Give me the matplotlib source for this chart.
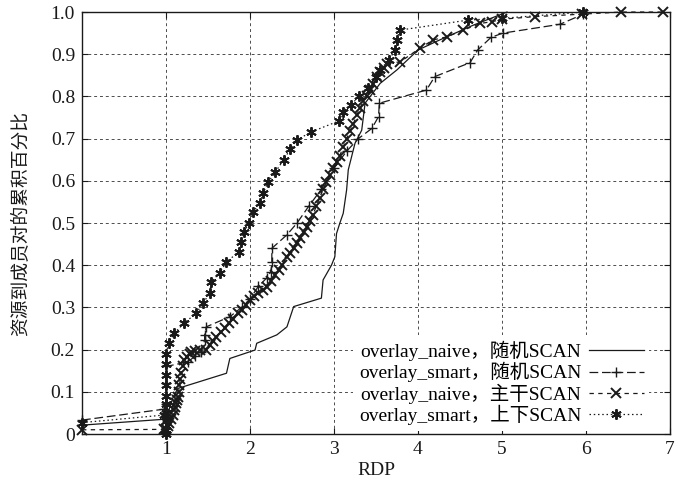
"""CDF of RDP for the four overlay / SCAN combinations."""
import matplotlib
matplotlib.use("Agg")
import matplotlib.pyplot as plt

plt.rcParams["font.family"] = ["Liberation Serif", "Noto Sans CJK SC", "DejaVu Sans"]

INK = "#1a1a1a"

LABELS = ["overlay_naive，随机SCAN", "overlay_smart，随机SCAN",
          "overlay_naive，主干SCAN", "overlay_smart，上下SCAN"]

# overlay_naive, random SCAN (solid)
X1 = [0, 0.98, 1.0, 1.04, 1.08, 1.14, 1.72, 1.76, 2.06, 2.08, 2.32, 2.44, 2.52,
      2.85, 2.87, 2.97, 3.01, 3.03, 3.07, 3.11, 3.15, 3.17, 3.25, 3.33, 3.37,
      3.55, 3.75, 4.0, 4.26, 4.66, 5.06]
Y1 = [0.021, 0.035, 0.035, 0.06, 0.085, 0.108, 0.144, 0.179, 0.199, 0.215,
      0.235, 0.254, 0.302, 0.322, 0.365, 0.40, 0.42, 0.475, 0.50, 0.523, 0.578,
      0.626, 0.689, 0.72, 0.784, 0.831, 0.863, 0.91, 0.934, 0.969, 1.0]

# overlay_smart, random SCAN (long dash, +)
X2 = [0, 0.98, 1.0, 1.0, 1.0, 1.26, 1.35, 1.42, 1.46, 1.46, 1.48, 1.76, 1.9,
      2.0, 2.1, 2.2, 2.25, 2.26, 2.26, 2.44, 2.56, 2.7, 2.85, 3.0, 3.15, 3.29,
      3.45, 3.53, 3.54, 4.10, 4.20, 4.62, 4.71, 4.87, 5.01, 5.69, 5.97]
Y2 = [0.033, 0.059, 0.07, 0.12, 0.16, 0.171, 0.185, 0.195, 0.223, 0.235,
      0.254, 0.278, 0.30, 0.32, 0.35, 0.37, 0.385, 0.408, 0.44, 0.472, 0.50,
      0.54, 0.58, 0.63, 0.67, 0.70, 0.724, 0.752, 0.784, 0.815, 0.847, 0.88,
      0.91, 0.94, 0.95, 0.971, 0.995]

# overlay_naive, trunk SCAN (short dash, x)
X3 = [0, 0.98, 1.0, 1.02, 1.04, 1.06, 1.08, 1.10, 1.11, 1.12, 1.13, 1.14, 1.15,
      1.16, 1.17, 1.18, 1.20, 1.22, 1.25, 1.28, 1.30, 1.35, 1.40, 1.48, 1.52,
      1.56, 1.60, 1.66, 1.70, 1.75, 1.80, 1.86, 1.90, 1.95, 2.00, 2.05, 2.10,
      2.15, 2.20, 2.25, 2.30, 2.34, 2.38, 2.44, 2.48, 2.52, 2.56, 2.60, 2.64,
      2.68, 2.71, 2.75, 2.79, 2.83, 2.87, 2.91, 2.95, 2.99, 3.03, 3.07, 3.11,
      3.15, 3.19, 3.23, 3.27, 3.31, 3.35, 3.39, 3.43, 3.47, 3.51, 3.55, 3.59,
      3.63, 3.79, 4.02, 4.18, 4.34, 4.54, 4.74, 4.88, 5.0, 5.39, 5.95, 6.42, 6.92]
Y3 = [0.01, 0.011, 0.012, 0.018, 0.025, 0.035, 0.045, 0.057, 0.065, 0.073,
      0.08, 0.088, 0.10, 0.115, 0.13, 0.145, 0.16, 0.175, 0.182, 0.19, 0.195,
      0.197, 0.198, 0.20, 0.21, 0.22, 0.23, 0.242, 0.252, 0.262, 0.273, 0.286,
      0.295, 0.306, 0.318, 0.326, 0.334, 0.341, 0.349, 0.362, 0.376, 0.389,
      0.40, 0.42, 0.43, 0.441, 0.452, 0.465, 0.478, 0.491, 0.505, 0.52, 0.54,
      0.56, 0.58, 0.597, 0.613, 0.63, 0.645, 0.66, 0.68, 0.70, 0.718, 0.735,
      0.755, 0.773, 0.788, 0.80, 0.815, 0.83, 0.845, 0.858, 0.868, 0.878,
      0.882, 0.914, 0.934, 0.941, 0.957, 0.973, 0.977, 0.983, 0.989, 0.995,
      1.0, 1.0]

# overlay_smart, trunk SCAN (dotted, asterisk)
X4 = [0, 0.98, 1.0, 1.0, 1.0, 1.0, 1.0, 1.0, 1.0, 1.0, 1.0, 1.0, 1.03, 1.10,
      1.21, 1.36, 1.44, 1.52, 1.54, 1.64, 1.72, 1.87, 1.89, 1.93, 1.99, 2.04,
      2.12, 2.16, 2.22, 2.30, 2.40, 2.48, 2.56, 2.73, 3.06, 3.11, 3.20, 3.30,
      3.40, 3.50, 3.55, 3.65, 3.73, 3.75, 3.78, 4.60, 5.0, 5.97]
Y4 = [0.027, 0.045, 0.0, 0.01, 0.03, 0.05, 0.07, 0.09, 0.115, 0.14, 0.165,
      0.19, 0.215, 0.239, 0.262, 0.286, 0.31, 0.333, 0.361, 0.382, 0.408,
      0.432, 0.456, 0.479, 0.501, 0.527, 0.548, 0.572, 0.598, 0.62, 0.65,
      0.675, 0.697, 0.716, 0.742, 0.764, 0.78, 0.80, 0.82, 0.845, 0.863,
      0.886, 0.91, 0.934, 0.957, 0.981, 0.985, 1.0]

X_TICKS = [1, 2, 3, 4, 5, 6, 7]
Y_TICKS = [0, 0.1, 0.2, 0.3, 0.4, 0.5, 0.6, 0.7, 0.8, 0.9, 1.0]
Y_TICKLABELS = ["0", "0.1", "0.2", "0.3", "0.4", "0.5", "0.6", "0.7", "0.8", "0.9", "1.0"]

ASTERISK = (6, 2, 0)


def build():
    fig = plt.figure(figsize=(6.76, 4.87), dpi=100)
    ax = fig.add_axes([0.1213, 0.1088, 0.8698, 0.8665])

    common = dict(color=INK, linewidth=0.9, clip_on=False)
    ax.plot(X1, Y1, linestyle="-", label=LABELS[0], **common)
    ax.plot(X2, Y2, linestyle=(0, (7, 3)), marker="+", markersize=6.5,
            markeredgewidth=1.0, label=LABELS[1], **common)
    ax.plot(X3, Y3, linestyle=(0, (3.5, 3.5)), marker="x", markersize=6.5,
            markeredgewidth=1.4, label=LABELS[2], **common)
    ax.plot(X4, Y4, linestyle=(0, (1.2, 2.2)), marker=ASTERISK, markersize=7.5,
            markeredgewidth=1.4, label=LABELS[3], **common)

    ax.set_xlim(0, 7)
    ax.set_ylim(0, 1.0)
    ax.set_xticks(X_TICKS)
    ax.set_xticklabels([str(t) for t in X_TICKS])
    ax.set_yticks(Y_TICKS)
    ax.set_yticklabels(Y_TICKLABELS)
    ax.tick_params(axis="both", direction="in", length=4, width=0.8,
                   top=True, right=True, labelsize=14, colors=INK, pad=5)
    ax.grid(True, color="0.3", linestyle=(0, (3, 3)), linewidth=0.7)
    for s in ax.spines.values():
        s.set_color(INK)
        s.set_linewidth(1.0)

    ax.set_xlabel("RDP", fontsize=14, color=INK, labelpad=3)
    ax.set_ylabel("资源到成员对的累积百分比", fontsize=13.5, color=INK, labelpad=15)

    leg = ax.legend(loc="lower right", bbox_to_anchor=(0.965, 0.008),
                    markerfirst=False, fontsize=14, frameon=True,
                    handlelength=2.8, handletextpad=0.4, labelspacing=0.05,
                    borderpad=0.3, borderaxespad=0)
    leg.get_frame().set_edgecolor("none")
    leg.get_frame().set_facecolor("white")
    leg.get_frame().set_alpha(1.0)
    leg.get_frame().set_boxstyle("square", pad=0)

    fig.savefig("out.png", dpi=100)
    plt.close(fig)


if __name__ == "__main__":
    build()
